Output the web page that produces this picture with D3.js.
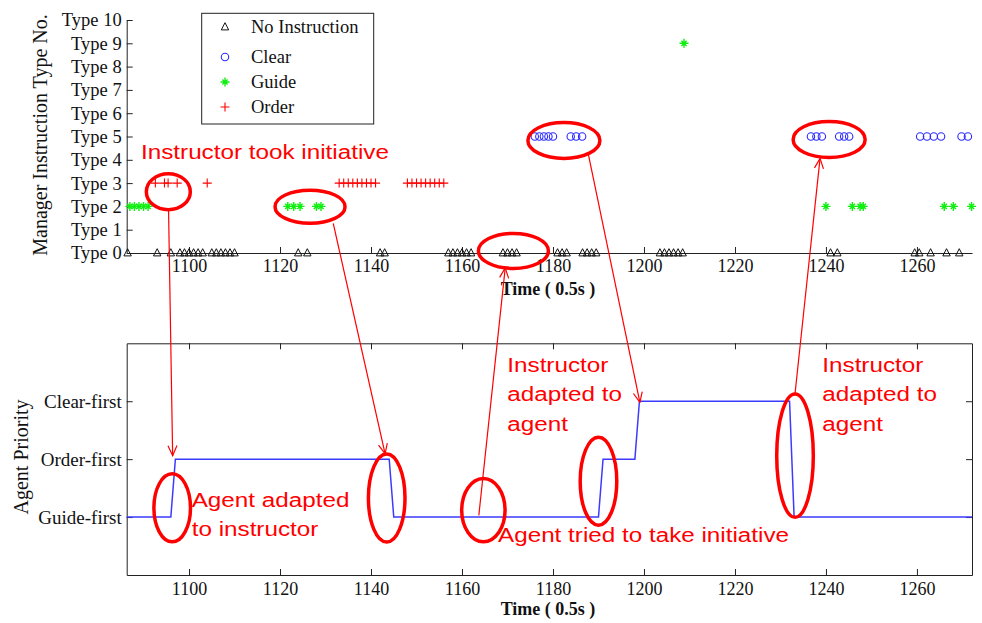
<!DOCTYPE html>
<html>
<head>
<meta charset="utf-8">
<script src="https://cdn.jsdelivr.net/npm/d3@7"></script>
<style>
  html, body { margin: 0; padding: 0; background: #fff; }
  svg { display: block; }
</style>
</head>
<body>
<svg id="chart" width="982" height="623"></svg>
<script>
// ---- Axis ticks and labels ----
const timeTicks = [1100, 1120, 1140, 1160, 1180, 1200, 1220, 1240, 1260];
const typeTicks = [0, 1, 2, 3, 4, 5, 6, 7, 8, 9, 10];
const typeLabels = ["Type 0", "Type 1", "Type 2", "Type 3", "Type 4", "Type 5",
                    "Type 6", "Type 7", "Type 8", "Type 9", "Type 10"];
const priorityTicks = [0, 1, 2];
const priorityLabels = ["Guide-first", "Order-first", "Clear-first"];

// ---- Manager instructions (time in 0.5 s steps) ----
// No instruction -> Type 0
const noInstructionTime = [1086.5, 1093, 1096, 1098, 1099, 1100, 1101, 1102, 1103,
  1105, 1106, 1107, 1108, 1109, 1110, 1124, 1126, 1142, 1143,
  1157, 1158, 1159, 1160, 1161, 1162, 1169, 1170, 1171, 1172,
  1181, 1182, 1183, 1186.5, 1187.5, 1188.5, 1189.5,
  1203.5, 1204.5, 1205.5, 1206.5, 1207.5, 1208.5,
  1241, 1242.5, 1259.5, 1260.5, 1263, 1266.5, 1269.3];
// Clear -> Type 5
const clearTime = [1176, 1177, 1178, 1179, 1180, 1183.9, 1185.1, 1186.4,
  1236.7, 1237.9, 1239.1, 1242.9, 1244, 1245.1,
  1260.7, 1262.2, 1263.7, 1265.3, 1269.8, 1271.2];
// Guide -> mostly Type 2, one Type 9
const guideTime = [1087, 1088, 1089, 1090, 1091, 1121.7, 1123, 1124.4, 1128, 1129,
  1208.8, 1240, 1245.8, 1247.5, 1248.2, 1266, 1268, 1272];
const guideType = [2, 2, 2, 2, 2, 2, 2, 2, 2, 2, 9, 2, 2, 2, 2, 2, 2, 2];
// Order -> Type 3
const orderTime = [1092.6, 1094.6, 1095.4, 1097.4, 1104,
  1133, 1134, 1135, 1136, 1137, 1138, 1139, 1140, 1141,
  1148, 1149, 1150, 1151, 1152, 1153, 1154, 1155, 1156];

// ---- Agent priority (0 Guide-first, 1 Order-first, 2 Clear-first) ----
const priorityTime  = [1086, 1096, 1097, 1144, 1145, 1190, 1191, 1198, 1199, 1232, 1233, 1273];
const priorityLevel = [0,    0,    1,    1,    0,    0,    1,    1,    2,    2,    0,    0];

// ---- Layout ----
const plotLeft = 126.7, plotRight = 972;
const topPanel = { top: 20, bottom: 253 };
const lowPanel = { top: 343.3, bottom: 575 };

const serif = "'Liberation Serif', 'Times New Roman', serif";
const sans = "'Liberation Sans', Arial, sans-serif";
const axisColor = "#222";
const red = "#ff0000";

const svg = d3.select("#chart");

const x = d3.scaleLinear().domain([1086.3, 1272.1]).range([plotLeft, plotRight]);
const yType = d3.scaleLinear().domain([0, 10]).range([topPanel.bottom, topPanel.top]);
const yPri = d3.scaleLinear().domain([-1, 3]).range([lowPanel.bottom, lowPanel.top]);

function styleAxis(g, size) {
  g.select(".domain").attr("stroke", axisColor).attr("stroke-width", 1);
  g.selectAll(".tick line").attr("stroke", axisColor).attr("stroke-width", 1);
  g.selectAll(".tick text")
    .attr("fill", "#111")
    .style("font-family", serif)
    .style("font-size", size + "px");
}

// ================= Upper panel: instruction types =================
const upperG = svg.append("g");

upperG.append("g")
  .attr("transform", `translate(${plotLeft},0)`)
  .call(d3.axisLeft(yType).tickValues(typeTicks)
    .tickFormat((d, i) => typeLabels[i])
    .tickSizeInner(-6).tickSizeOuter(0).tickPadding(5))
  .call(g => styleAxis(g, 18.5));

upperG.append("g")
  .attr("transform", `translate(0,${topPanel.bottom})`)
  .call(d3.axisBottom(x).tickValues(timeTicks)
    .tickFormat(d3.format("d"))
    .tickSizeInner(-6).tickSizeOuter(0).tickPadding(6))
  .call(g => styleAxis(g, 18));

upperG.append("text")
  .attr("x", 548).attr("y", 295)
  .attr("text-anchor", "middle")
  .style("font-family", serif).style("font-size", "18px").style("font-weight", "bold")
  .attr("fill", "#111")
  .text("Time ( 0.5s )");

upperG.append("text")
  .attr("transform", `translate(47,135) rotate(-90)`)
  .attr("text-anchor", "middle")
  .style("font-family", serif).style("font-size", "20px")
  .attr("fill", "#111")
  .text("Manager Instruction Type No.");

// marker shapes
const triPath = "M0,-4.3 L3.7,2.9 L-3.7,2.9 Z";
function drawTriangle(sel) {
  sel.append("path").attr("d", triPath)
    .attr("fill", "none").attr("stroke", "#111").attr("stroke-width", 1);
}
function drawCircle(sel) {
  sel.append("circle").attr("r", 3.7)
    .attr("fill", "none").attr("stroke", "#2a2aff").attr("stroke-width", 1.1);
}
function drawStar(sel) {
  sel.append("path")
    .attr("d", "M-4.5,0 L4.5,0 M0,-4.5 L0,4.5 M-2.6,-2.6 L2.6,2.6 M-2.6,2.6 L2.6,-2.6")
    .attr("fill", "none").attr("stroke", "#11ee11").attr("stroke-width", 1.4);
}
function drawPlus(sel) {
  sel.append("path")
    .attr("d", "M-4.5,0 L4.5,0 M0,-4.5 L0,4.5")
    .attr("fill", "none").attr("stroke", red).attr("stroke-width", 1.1);
}

function scatter(times, types, draw) {
  const pts = times.map((t, i) => ({ t, v: Array.isArray(types) ? types[i] : types }));
  upperG.append("g").selectAll("g")
    .data(pts).join("g")
    .attr("transform", d => `translate(${x(d.t)},${yType(d.v)})`)
    .each(function () { draw(d3.select(this)); });
}

scatter(noInstructionTime, 0, drawTriangle);
scatter(clearTime, 5, drawCircle);
scatter(guideTime, guideType, drawStar);
scatter(orderTime, 3, drawPlus);

// legend
const legendItems = [
  { label: "No Instruction", draw: drawTriangle, y: 27 },
  { label: "Clear", draw: drawCircle, y: 57 },
  { label: "Guide", draw: drawStar, y: 82 },
  { label: "Order", draw: drawPlus, y: 107 }
];
const legend = upperG.append("g");
legend.append("rect")
  .attr("x", 201.7).attr("y", 13.3).attr("width", 172).attr("height", 110.7)
  .attr("fill", "#fff").attr("stroke", axisColor).attr("stroke-width", 1);
legendItems.forEach(it => {
  const g = legend.append("g").attr("transform", `translate(225,${it.y})`);
  it.draw(g);
  legend.append("text")
    .attr("x", 251).attr("y", it.y + 6)
    .style("font-family", serif).style("font-size", "18.5px")
    .attr("fill", "#111")
    .text(it.label);
});

// ================= Lower panel: agent priority =================
const lowerG = svg.append("g");

lowerG.append("defs").append("clipPath").attr("id", "lowClip")
  .append("rect")
  .attr("x", plotLeft).attr("y", lowPanel.top)
  .attr("width", plotRight - plotLeft).attr("height", lowPanel.bottom - lowPanel.top);

lowerG.append("g")
  .attr("transform", `translate(${plotLeft},0)`)
  .call(d3.axisLeft(yPri).tickValues(priorityTicks)
    .tickFormat((d, i) => priorityLabels[i])
    .tickSizeInner(-6).tickSizeOuter(0).tickPadding(5))
  .call(g => styleAxis(g, 19));

lowerG.append("g")
  .attr("transform", `translate(${plotRight},0)`)
  .call(d3.axisRight(yPri).tickValues(priorityTicks).tickFormat("")
    .tickSizeInner(-6).tickSizeOuter(0))
  .call(g => styleAxis(g, 19));

lowerG.append("g")
  .attr("transform", `translate(0,${lowPanel.bottom})`)
  .call(d3.axisBottom(x).tickValues(timeTicks)
    .tickFormat(d3.format("d"))
    .tickSizeInner(-6).tickSizeOuter(0).tickPadding(7))
  .call(g => styleAxis(g, 18));

lowerG.append("g")
  .attr("transform", `translate(0,${lowPanel.top})`)
  .call(d3.axisTop(x).tickValues(timeTicks).tickFormat("")
    .tickSizeInner(-6).tickSizeOuter(0))
  .call(g => styleAxis(g, 18));

lowerG.append("path")
  .datum(priorityTime.map((t, i) => [t, priorityLevel[i]]))
  .attr("clip-path", "url(#lowClip)")
  .attr("fill", "none").attr("stroke", "#3b3bff").attr("stroke-width", 1.5)
  .attr("d", d3.line().x(d => x(d[0])).y(d => yPri(d[1])));

lowerG.append("text")
  .attr("x", 548).attr("y", 615)
  .attr("text-anchor", "middle")
  .style("font-family", serif).style("font-size", "18px").style("font-weight", "bold")
  .attr("fill", "#111")
  .text("Time ( 0.5s )");

lowerG.append("text")
  .attr("transform", `translate(27.5,457) rotate(-90)`)
  .attr("text-anchor", "middle")
  .style("font-family", serif).style("font-size", "20px")
  .attr("fill", "#111")
  .text("Agent Priority");

// ================= Annotations =================
const notes = svg.append("g");

notes.append("defs").append("marker")
  .attr("id", "openArrow")
  .attr("viewBox", "0 0 12 12")
  .attr("refX", 11).attr("refY", 6)
  .attr("markerWidth", 12).attr("markerHeight", 12)
  .attr("markerUnits", "userSpaceOnUse")
  .attr("orient", "auto")
  .append("path")
  .attr("d", "M1,1.5 L11,6 L1,10.5")
  .attr("fill", "none").attr("stroke", red).attr("stroke-width", 1.2);

// ellipses: centre in data units of the panel, radii in px
const upperRings = [
  { t: 1095.45, v: 2.63, rx: 22, ry: 18 },
  { t: 1126.6, v: 1.99, rx: 35, ry: 16.5 },
  { t: 1171.3, v: 0.09, rx: 35, ry: 17.5 },
  { t: 1182.4, v: 4.83, rx: 36, ry: 18 },
  { t: 1240.7, v: 4.87, rx: 36, ry: 18 }
];
const lowerRings = [
  { t: 1096.3, v: 0.16, rx: 18.3, ry: 34 },
  { t: 1143.45, v: 0.33, rx: 18.3, ry: 44 },
  { t: 1164.7, v: 0.12, rx: 21.7, ry: 31.7 },
  { t: 1190.0, v: 0.62, rx: 18.3, ry: 44 },
  { t: 1233.2, v: 1.06, rx: 18.3, ry: 61.7 }
];
function rings(list, yScale) {
  notes.append("g").selectAll("ellipse").data(list).join("ellipse")
    .attr("cx", d => x(d.t)).attr("cy", d => yScale(d.v))
    .attr("rx", d => d.rx).attr("ry", d => d.ry)
    .attr("fill", "none").attr("stroke", red).attr("stroke-width", 3.5);
}
rings(upperRings, yType);
rings(lowerRings, yPri);

// arrows linking the two panels (ends given in each panel's data units)
const links = [
  { from: { t: 1095.5, v: 1.85, p: "up" }, to: { t: 1096.4, v: 1.06, p: "low" } },
  { from: { t: 1131.7, v: 1.27, p: "up" }, to: { t: 1143.1, v: 1.09, p: "low" } },
  { from: { t: 1163.7, v: 0.03, p: "low" }, to: { t: 1169.5, v: -0.64, p: "up" } },
  { from: { t: 1187.8, v: 4.21, p: "up" }, to: { t: 1199.1, v: 1.98, p: "low" } },
  { from: { t: 1233.2, v: 2.13, p: "low" }, to: { t: 1238.7, v: 4.06, p: "up" } }
];
const py = e => (e.p === "up" ? yType(e.v) : yPri(e.v));
notes.append("g").selectAll("line").data(links).join("line")
  .attr("x1", d => x(d.from.t)).attr("y1", d => py(d.from))
  .attr("x2", d => x(d.to.t)).attr("y2", d => py(d.to))
  .attr("stroke", red).attr("stroke-width", 1.2)
  .attr("marker-end", "url(#openArrow)");

// callout text
const callouts = [
  { x: 141, y: 159.3, lines: ["Instructor took initiative"] },
  { x: 191.7, y: 506.7, lines: ["Agent adapted", "to instructor"] },
  { x: 498, y: 541.7, lines: ["Agent tried to take initiative"] },
  { x: 507.3, y: 371.7, lines: ["Instructor", "adapted to", "agent"] },
  { x: 822.3, y: 371.7, lines: ["Instructor", "adapted to", "agent"] }
];
callouts.forEach(c => {
  const g = notes.append("g").attr("transform", `translate(${c.x},${c.y}) scale(1.155,1)`);
  c.lines.forEach((s, i) => {
    g.append("text")
      .attr("x", 0).attr("y", i * 29.5)
      .style("font-family", sans).style("font-size", "21px")
      .attr("fill", red)
      .text(s);
  });
});
</script>
</body>
</html>
